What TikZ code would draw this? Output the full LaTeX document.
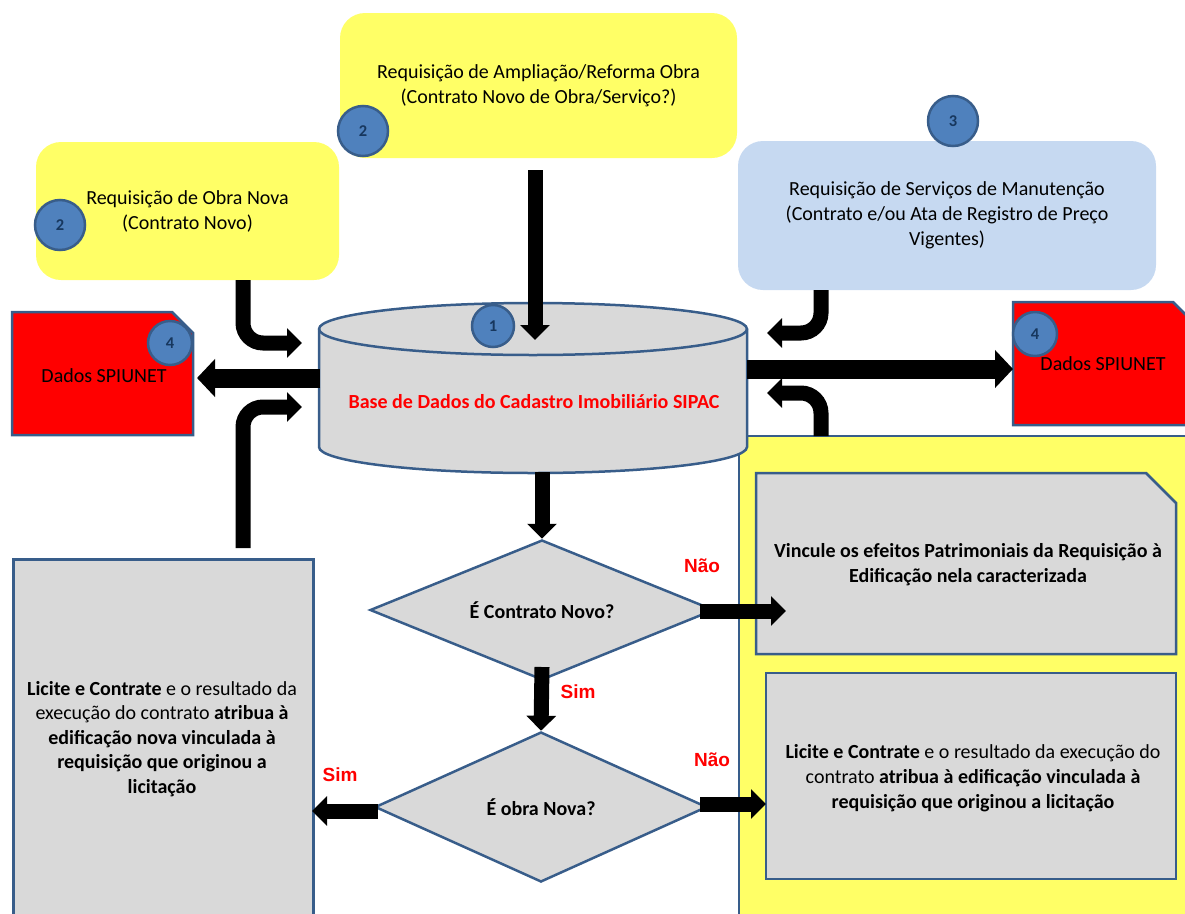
\documentclass[tikz,border=0pt]{standalone}
\usepackage{fontspec}
\setmainfont{Carlito}
\newfontfamily\arialfont{Liberation Sans}
\usetikzlibrary{arrows.meta,calc,shapes.geometric}
\definecolor{yel}{HTML}{FFFF66}
\definecolor{lblue}{HTML}{C6D9F1}
\definecolor{gry}{HTML}{D9D9D9}
\definecolor{bord}{HTML}{385D8A}
\definecolor{cfill}{HTML}{4F81BD}
\definecolor{navy}{HTML}{17375E}
\begin{document}
\begin{tikzpicture}[x=1pt,y=-1pt,
  txt/.style={font=\fontsize{20}{25}\selectfont, align=center, inner sep=0pt},
  reqbox/.style={txt, rounded corners=25pt},
  graybox/.style={draw=bord, fill=gry, line width=2.5pt, inner sep=0pt},
  num/.style={circle, fill=cfill, draw=bord, line width=2.5pt, inner sep=0pt, text=navy, font=\fontsize{16.5}{19}\selectfont\bfseries},
  lab/.style={text=red, font=\arialfont\fontsize{19}{22}\selectfont\bfseries, inner sep=0pt},
  barrow/.style={line width=15pt, -{Triangle[width=29pt,length=15pt]}},
  bigarrow/.style={line width=19pt, -{Triangle[width=37pt,length=18pt]}},
  elbow/.style={barrow, rounded corners=20pt}
]
\path[use as bounding box] (0,0) rectangle (1185,913);
\clip (0,0) rectangle (1185,913);

% request boxes
\node[reqbox, fill=yel, minimum width=397pt, minimum height=145pt] (amp) at (538.5,85.5)
  {Requisição de Ampliação/Reforma Obra\\(Contrato Novo de Obra/Serviço?)};
\node[reqbox, fill=yel, minimum width=303pt, minimum height=138pt] (nova) at (187.5,211)
  {Requisição de Obra Nova\\(Contrato Novo)};
\node[reqbox, fill=lblue, minimum width=418pt, minimum height=149pt] (manu) at (947,215.5)
  {Requisição de Serviços de Manutenção\\(Contrato e/ou Ata de Registro de Preço\\Vigentes)};

% yellow container
\node[draw=bord, fill=yel, line width=2pt, minimum width=480pt, minimum height=500pt, inner sep=0pt, anchor=north west] (cont) at (738,435) {};

% cylinder
\path[draw=bord, fill=gry, line width=2.5pt] (319,329) -- (319,447)
  arc[start angle=180, end angle=360, x radius=214pt, y radius=26pt] -- (747,329)
  arc[start angle=0, end angle=180, x radius=214pt, y radius=26pt] -- cycle;
\draw[bord, line width=2.5pt] (319,329) arc[start angle=180, end angle=360, x radius=214pt, y radius=26pt];
\node[txt, text=red, font=\fontsize{20}{25}\selectfont\bfseries] (db) at (534,402) {Base de Dados do Cadastro Imobiliário SIPAC};

% SPIUNET boxes
\path[draw=bord, fill=red, line width=2.5pt] (12,312) -- (172,312) -- (193,333) -- (193,435) -- (12,435) -- cycle;
\node[txt] (spl) at (104,376) {Dados SPIUNET};
\path[draw=bord, fill=red, line width=2.5pt] (1013,302) -- (1173,302) -- (1194,323) -- (1194,425) -- (1013,425) -- cycle;
\node[txt] (spr) at (1103,364) {Dados SPIUNET};

% right boxes
\path[draw=bord, fill=gry, line width=2.5pt] (756,473) -- (1146,473) -- (1176,503) -- (1176,654) -- (756,654) -- cycle;
\node[txt, font=\fontsize{20}{25}\selectfont\bfseries] (vinc) at (968,565)
  {Vincule os efeitos Patrimoniais da Requisição à\\Edificação nela caracterizada};
\node[graybox, minimum width=410pt, minimum height=206pt] (lic2) at (971,776) {};
\node[txt] (lic2t) at (973,778)
  {\textbf{Licite e Contrate} e o resultado da execução do\\contrato \textbf{atribua à edificação vinculada à}\\\textbf{requisição que originou a licitação}};

% left box
\node[graybox, minimum width=300pt, minimum height=400pt, anchor=north west] (lic1) at (12,558) {};
\node[txt, font=\fontsize{20}{24.5}\selectfont] (lic1t) at (162,739)
  {\textbf{Licite e Contrate} e o resultado da\\execução do contrato \textbf{atribua à}\\\textbf{edificação nova vinculada à}\\\textbf{requisição que originou a}\\\textbf{licitação}};

% diamonds
\node[diamond, draw=bord, fill=gry, line width=2.5pt, minimum width=344pt, minimum height=140pt, aspect=2.4, inner sep=0pt,
  font=\fontsize{20}{25}\selectfont\bfseries] (d1) at (542,610) {É Contrato Novo?};
\node[diamond, draw=bord, fill=gry, line width=2.5pt, minimum width=332pt, minimum height=150pt, aspect=2.2, inner sep=0pt,
  font=\fontsize{20}{25}\selectfont\bfseries] (d2) at (541,807) {É obra Nova?};

% coordinates
\coordinate (ampout) at (535,170);
\coordinate (dbtop) at (535,340);
\coordinate (novaout) at (243,280);
\coordinate (dbin1) at (302,343);
\coordinate (licout) at (243,548);
\coordinate (dbin2) at (302,407);
\coordinate (manuout) at (821,290);
\coordinate (dbin3) at (767,333);
\coordinate (contout) at (821,436);
\coordinate (dbin4) at (767,393);
\coordinate (dbleft) at (320,378);
\coordinate (splin) at (197,378);
\coordinate (dbright) at (747,369);
\coordinate (sprin) at (1013,369);
\coordinate (dbbot) at (542,472);
\coordinate (d1out) at (542,667);
\coordinate (d1right) at (700,611);
\coordinate (vincin) at (786,611);
\coordinate (d2right) at (700,804);
\coordinate (lic2in) at (766,804);
\coordinate (d2left) at (378,811);
\coordinate (lic1in) at (312,811);

% connectors
\draw[barrow] (ampout) -- (dbtop);
\draw[elbow] (novaout) |- (dbin1);
\draw[elbow] (licout) |- (dbin2);
\draw[elbow] (manuout) |- (dbin3);
\draw[elbow] (contout) |- (dbin4);
\draw[bigarrow] (dbleft) -- (splin);
\draw[bigarrow] (dbright) -- (sprin);
\draw[barrow] (dbbot) -- (d1.north);
\draw[barrow] (d1out) -- (d2.north);
\draw[barrow] (d1right) -- (vincin);
\draw[barrow] (d2right) -- (lic2in);
\draw[barrow] (d2left) -- (lic1in);

% labels
\node[lab] (nao1) at (702,566) {Não};
\node[lab] (sim1) at (578,692) {Sim};
\node[lab] (sim2) at (340,775) {Sim};
\node[lab] (nao2) at (712,760) {Não};

% number circles
\node[num, minimum size=50pt] (c2a) at (363,131) {2};
\node[num, minimum size=50pt] (c2b) at (60,225) {2};
\node[num, minimum size=50pt] (c3) at (953,121) {3};
\node[num, minimum size=42pt] (c1) at (493,326) {1};
\node[num, minimum size=44pt] (c4a) at (170,343) {4};
\node[num, minimum size=44pt] (c4b) at (1035,334) {4};
\end{tikzpicture}
\end{document}
